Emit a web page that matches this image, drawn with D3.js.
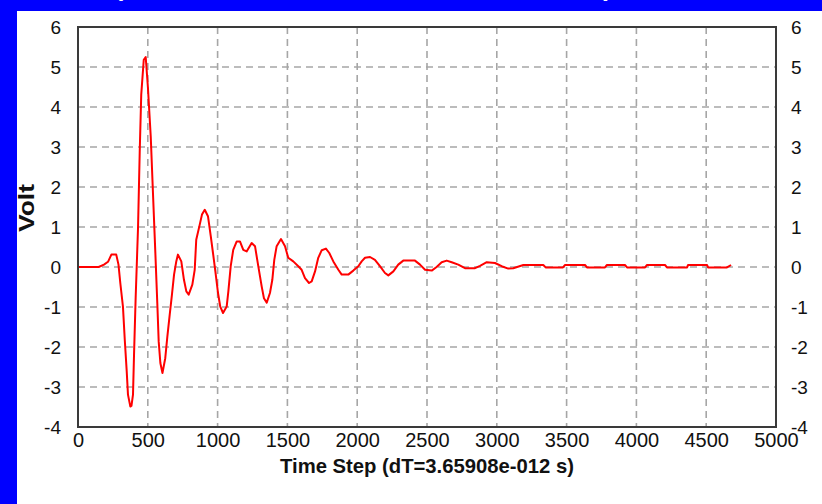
<!DOCTYPE html>
<html>
<head>
<meta charset="utf-8">
<script src="https://cdn.jsdelivr.net/npm/d3@7"></script>
<style>
  html, body { margin: 0; padding: 0; background: #0000ff; }
  svg { display: block; }
</style>
</head>
<body>
<svg id="chart" width="822" height="504"></svg>
<script>
// Transient voltage waveform vs. simulation time step
const xTicks = [0, 500, 1000, 1500, 2000, 2500, 3000, 3500, 4000, 4500, 5000];
const yTicks = [-4, -3, -2, -1, 0, 1, 2, 3, 4, 5, 6];
const xTitle = "Time Step (dT=3.65908e-012 s)";
const yTitle = "Volt";

const timeStep = [
  0, 148, 186, 215, 239, 274, 290, 303, 322, 335, 349, 358, 375, 383, 394, 401, 413, 430, 442, 453,
  471, 485, 501, 521, 537, 554, 568, 578, 590, 605, 625, 640, 657, 673, 688, 704, 716, 740, 759, 776,
  793, 819, 836, 847, 872, 888, 908, 931, 951, 967, 984, 1003, 1019, 1039, 1065, 1077, 1094, 1112, 1137, 1160,
  1184, 1208, 1244, 1268, 1284, 1304, 1316, 1332, 1352, 1375, 1392, 1406, 1423, 1454, 1483, 1506, 1542, 1578, 1602, 1626,
  1655, 1674, 1698, 1721, 1746, 1776, 1800, 1829, 1865, 1889, 1936, 1972, 2008, 2032, 2056, 2092, 2127, 2163, 2199, 2223,
  2259, 2294, 2330, 2414, 2450, 2486, 2534, 2569, 2605, 2641, 2677, 2724, 2772, 2844, 2880, 2928, 2987, 3035, 3082, 3118,
  3190, 3333, 3350, 3474, 3489, 3632, 3646, 3775, 3789, 3918, 3933, 4062, 4076, 4205, 4219, 4363, 4370, 4506, 4513, 4649,
  4678
];
const volt = [
  0, 0, 0.06, 0.13, 0.31, 0.31, 0.06, -0.40, -0.99, -1.82, -2.61, -3.19, -3.49, -3.47, -3.19, -2.24, -0.77, 0.98, 2.86, 4.31,
  5.18, 5.25, 4.48, 3.27, 1.85, 0.36, -0.90, -1.86, -2.40, -2.65, -2.28, -1.74, -1.19, -0.69, -0.19, 0.14, 0.31, 0.14, -0.32, -0.61,
  -0.69, -0.44, -0.07, 0.68, 1.06, 1.31, 1.43, 1.27, 0.77, 0.35, -0.11, -0.65, -0.99, -1.15, -0.99, -0.61, 0.02, 0.43, 0.64, 0.64,
  0.43, 0.39, 0.60, 0.52, 0.18, -0.24, -0.49, -0.78, -0.89, -0.65, -0.32, 0.18, 0.52, 0.70, 0.52, 0.23, 0.14, 0.02, -0.07, -0.28,
  -0.40, -0.36, -0.11, 0.23, 0.42, 0.46, 0.35, 0.14, -0.07, -0.19, -0.19, -0.09, 0.02, 0.14, 0.23, 0.25, 0.18, 0.02, -0.15, -0.21,
  -0.11, 0.06, 0.16, 0.16, 0.06, -0.07, -0.09, 0, 0.12, 0.16, 0.12, 0.06, -0.03, -0.03, 0.03, 0.12, 0.10, 0.02, -0.04, -0.03,
  0.05, 0.05, -0.01, -0.01, 0.05, 0.05, -0.01, -0.01, 0.05, 0.05, -0.01, -0.01, 0.05, 0.05, -0.01, -0.01, 0.05, 0.05, -0.01, -0.01,
  0.05
];

const W = 822, H = 504;
const plot = { left: 78, right: 776, top: 27, bottom: 427 };

const svg = d3.select("#chart");

// window background and white client area
svg.append("rect").attr("x", 0).attr("y", 0).attr("width", W).attr("height", H).attr("fill", "#0000ff");
svg.append("rect").attr("x", 17).attr("y", 11).attr("width", W - 17).attr("height", H - 11).attr("fill", "#ffffff");

// bottoms of the header brackets peeking into the frame
svg.append("text").attr("x", 110).attr("y", -7).attr("font-family", "Liberation Sans, sans-serif")
  .attr("font-size", 40).attr("fill", "#ffffff").text("(");
svg.append("text").attr("x", 603).attr("y", -7).attr("font-family", "Liberation Sans, sans-serif")
  .attr("font-size", 40).attr("fill", "#ffffff").text(")");

const x = d3.scaleLinear().domain([0, 5000]).range([plot.left, plot.right]);
const y = d3.scaleLinear().domain([-4, 6]).range([plot.bottom, plot.top]);

// dashed grid
const grid = svg.append("g").attr("stroke", "#a6a6a6").attr("stroke-width", 1.6).attr("stroke-dasharray", "7,5");
grid.selectAll("line.v").data(xTicks.slice(1, -1)).join("line")
  .attr("x1", d => x(d)).attr("x2", d => x(d))
  .attr("y1", plot.top).attr("y2", plot.bottom);
grid.selectAll("line.h").data(yTicks.slice(1, -1)).join("line")
  .attr("x1", plot.left).attr("x2", plot.right)
  .attr("y1", d => y(d)).attr("y2", d => y(d));

// waveform
const line = d3.line().x((d, i) => x(timeStep[i])).y(d => y(d));
svg.append("path").datum(volt)
  .attr("fill", "none").attr("stroke", "#ff0000").attr("stroke-width", 2)
  .attr("stroke-linejoin", "round")
  .attr("d", line);

// plot frame
svg.append("rect")
  .attr("x", plot.left).attr("y", plot.top)
  .attr("width", plot.right - plot.left).attr("height", plot.bottom - plot.top)
  .attr("fill", "none").attr("stroke", "#3a3a3a").attr("stroke-width", 2);

const fontFam = "'Liberation Sans Narrow', 'Liberation Sans', Arial, sans-serif";
const plain = d => String(d);

function styleAxis(g, size) {
  g.select(".domain").remove();
  g.selectAll(".tick line").remove();
  g.selectAll("text").attr("font-family", fontFam).attr("font-size", size).attr("fill", "#111");
}

svg.append("g").attr("transform", `translate(${plot.left - 17},0)`)
  .call(d3.axisLeft(y).tickValues(yTicks).tickSize(0).tickPadding(0).tickFormat(plain))
  .call(g => styleAxis(g, 19));

svg.append("g").attr("transform", `translate(${plot.right + 15},0)`)
  .call(d3.axisRight(y).tickValues(yTicks).tickSize(0).tickPadding(0).tickFormat(plain))
  .call(g => styleAxis(g, 19));

svg.append("g").attr("transform", `translate(0,${plot.bottom + 6})`)
  .call(d3.axisBottom(x).tickValues(xTicks).tickSize(0).tickPadding(0).tickFormat(plain))
  .call(g => styleAxis(g, 20));

// axis titles
svg.append("text")
  .attr("x", 427).attr("y", 473)
  .attr("text-anchor", "middle")
  .attr("font-family", fontFam)
  .attr("font-weight", "bold").attr("font-size", 21).attr("fill", "#111")
  .attr("textLength", 294).attr("lengthAdjust", "spacingAndGlyphs")
  .text(xTitle);

svg.append("text")
  .attr("transform", "translate(34,208) rotate(-90)")
  .attr("text-anchor", "middle")
  .attr("font-family", fontFam)
  .attr("font-weight", "bold").attr("font-size", 22).attr("fill", "#111")
  .attr("textLength", 48).attr("lengthAdjust", "spacingAndGlyphs")
  .text(yTitle);
</script>
</body>
</html>
